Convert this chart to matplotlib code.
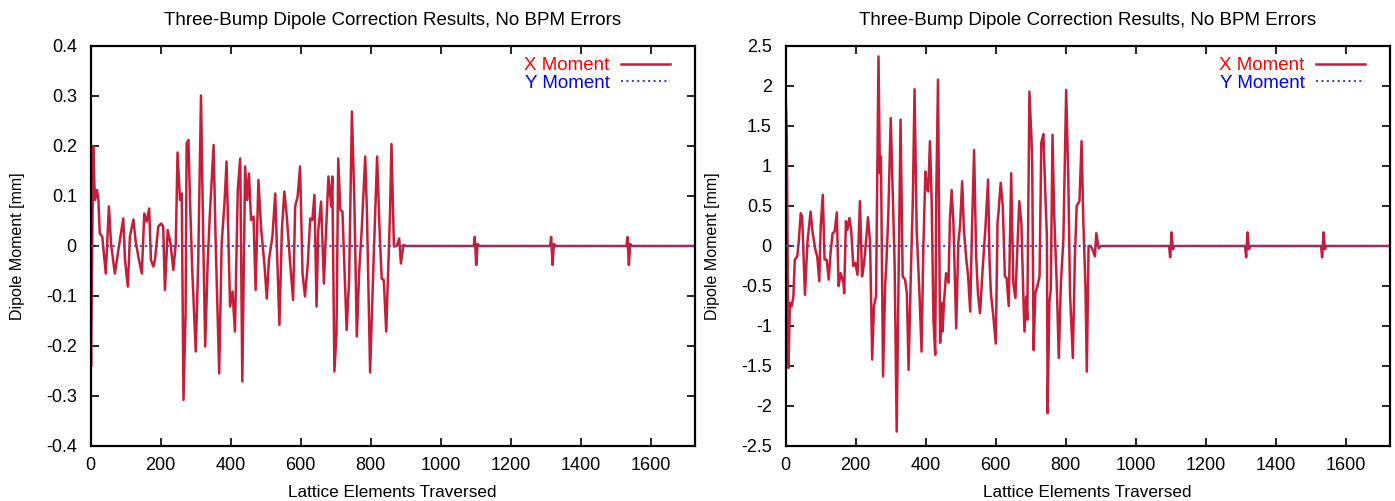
import matplotlib
matplotlib.use("Agg")
import matplotlib.pyplot as plt

plt.rcParams['font.family'] = ['Liberation Sans', 'DejaVu Sans']

title_text = "Three-Bump Dipole Correction Results, No BPM Errors"
xlabel_text = "Lattice Elements Traversed"
ylabel_text = "Dipole Moment [mm]"
legend_labels = ["X Moment", "Y Moment"]

# Left panel: X moment (mm)
left_x = [0, 1, 7, 12, 18, 22, 26, 33, 43, 52, 58, 69, 79, 93, 98, 106, 112, 122, 128, 136,
          146, 153, 160, 167, 172, 179, 184, 193, 201, 207, 212, 220, 228, 236, 243, 248, 255,
          260, 265, 271, 274, 279, 285, 290, 300, 307, 315, 321, 327, 334, 340, 351, 357, 367,
          374, 382, 388, 398, 405, 412, 420, 427, 433, 441, 447, 452, 458, 465, 471, 479, 487,
          496, 503, 509, 519, 527, 532, 539, 546, 553, 560, 569, 578, 584, 591, 598, 605, 612,
          620, 627, 633, 639, 645, 650, 658, 666, 671, 679, 687, 690, 696, 702, 707, 713, 719,
          731, 738, 746, 753, 760, 767, 774, 784, 789, 798, 807, 818, 825, 831, 837, 844, 850,
          855, 859, 866, 874, 881, 886, 893, 900,
          1094, 1097, 1101, 1105, 1110,
          1312, 1315, 1319, 1323, 1328,
          1530, 1533, 1537, 1541, 1546,
          1725]
left_y = [-0.19, -0.241, 0.200, 0.092, 0.112, 0.092, 0.025, 0.019, -0.055, 0.079, 0.005, -0.055,
          -0.008, 0.055, -0.028, -0.081, 0.019, 0.053, 0.012, -0.021, -0.055, 0.065, 0.049, 0.075,
          -0.028, -0.041, -0.025, 0.039, 0.045, 0.039, -0.088, 0.032, 0.005, -0.048, 0.005, 0.187,
          0.092, 0.105, -0.308, -0.135, 0.205, 0.212, 0.059, -0.048, -0.211, -0.035, 0.301, 0.032,
          -0.201, -0.035, 0.059, 0.202, 0.005, -0.255, 0.005, 0.085, 0.169, -0.121, -0.091, -0.171,
          0.112, 0.175, -0.271, 0.159, 0.092, 0.145, 0.052, 0.059, -0.088, 0.132, 0.032, -0.035,
          -0.105, -0.028, 0.019, 0.105, -0.008, -0.158, 0.032, 0.109, 0.059, -0.028, -0.108, 0.079,
          0.099, 0.159, -0.055, -0.101, -0.035, 0.055, 0.052, 0.102, -0.121, 0.032, 0.089, -0.075,
          0.012, 0.139, 0.079, 0.139, -0.251, -0.175, 0.175, 0.072, 0.069, -0.168, -0.068, 0.269,
          0.092, -0.181, -0.048, 0.032, 0.179, 0.065, -0.253, -0.048, 0.179, 0.032, -0.065, -0.068,
          -0.171, -0.041, 0.069, 0.204, -0.001, 0.0, 0.015, -0.035, 0.002, 0.0,
          0.0, 0.018, -0.038, 0.004, 0.0,
          0.0, 0.018, -0.038, 0.004, 0.0,
          0.0, 0.018, -0.038, 0.004, 0.0,
          0.0]

# Right panel: X moment (mm)
right_x = [0, 3, 8, 12, 17, 22, 26, 33, 37, 43, 47, 50, 55, 62, 71, 77, 85, 90, 96, 100, 106,
           111, 117, 123, 128, 134, 140, 146, 151, 157, 165, 167, 172, 176, 182, 187, 193, 199,
           205, 212, 218, 224, 229, 235, 241, 247, 252, 258, 265, 269, 272, 278, 284, 288, 293,
           300, 306, 311, 317, 323, 328, 334, 341, 346, 351, 357, 363, 368, 374, 382, 388, 393,
           399, 403, 407, 412, 417, 422, 427, 430, 435, 441, 445, 448, 452, 458, 465, 469, 474,
           479, 487, 493, 498, 504, 509, 515, 521, 527, 532, 538, 544, 549, 555, 563, 570, 578,
           582, 586, 593, 600, 605, 608, 614, 620, 626, 631, 637, 644, 650, 656, 662, 667, 673,
           679, 682, 687, 690, 696, 702, 704, 708, 713, 719, 725, 730, 736, 742, 746, 748, 753,
           757, 762, 767, 774, 780, 786, 793, 801, 807, 812, 820, 826, 831, 839, 845, 850, 856,
           860, 865, 871, 877, 883, 887, 894, 900,
           1095, 1098, 1102, 1106, 1110,
           1312, 1315, 1319, 1323, 1327,
           1529, 1532, 1536, 1540, 1544,
           1725]
right_y = [1.85, 1.41, -1.525, -0.71, -0.755, -0.63, -0.17, -0.13, 0.04, 0.41, 0.37, 0.0, -0.61,
           0.04, 0.43, 0.16, -0.05, -0.13, -0.44, 0.25, 0.64, -0.17, -0.17, -0.42, -0.09, 0.16,
           0.18, 0.42, -0.5, -0.34, -0.46, -0.59, 0.31, 0.2, 0.35, 0.2, -0.25, -0.21, -0.36, 0.56,
           -0.38, -0.21, 0.04, 0.36, 0.04, -1.42, -0.75, -0.63, 2.37, 0.91, 1.12, -1.63, -0.5,
           -0.17, 0.39, 1.6, 0.62, -0.21, -2.32, -0.23, 1.58, -0.38, -0.42, -0.59, -1.55, -0.42,
           0.56, 1.96, 0.2, -0.59, -1.32, -0.05, 0.93, 0.73, 0.68, 1.31, 0.54, -0.92, -1.36, 0.62,
           2.08, -1.21, -0.71, -1.07, -0.71, -0.34, -0.46, 0.33, 0.7, 0.29, -1.03, 0.04, 0.25, 0.81,
           0.2, -0.13, -0.38, -0.82, 0.2, 1.2, -0.13, -0.59, -0.84, -0.25, 0.2, 0.83, -0.17, -0.59,
           -0.88, -1.22, 0.29, 0.43, 0.79, 0.5, -0.38, -0.4, -0.75, 0.91, -0.46, -0.65, 0.0, 0.56,
           0.29, -0.67, -1.07, -0.63, -0.92, 1.93, 1.33, 1.04, -1.3, -0.59, -0.5, -0.38, 1.29, 1.4,
           0.58, 0.12, -2.09, -0.71, -0.55, 1.39, 0.37, -0.46, -1.4, -0.46, 0.08, 1.95, 0.87, -0.59,
           -1.4, -0.13, 0.5, 0.56, 1.31, 0.31, -0.5, -1.57, 0.0, 0.0, -0.05, -0.13, 0.16, -0.03, 0.0,
           0.0, -0.14, 0.17, -0.04, 0.0,
           0.0, -0.14, 0.17, -0.04, 0.0,
           0.0, -0.14, 0.17, -0.04, 0.0,
           0.0]

# Y moment: zero everywhere
ymom_x = [0, 1725]
ymom_y = [0.0, 0.0]

x_ticks = [0, 200, 400, 600, 800, 1000, 1200, 1400, 1600]
left_yticks = [-0.4, -0.3, -0.2, -0.1, 0, 0.1, 0.2, 0.3, 0.4]
left_yticklabels = ["-0.4", "-0.3", "-0.2", "-0.1", "0", "0.1", "0.2", "0.3", "0.4"]
right_yticks = [-2.5, -2, -1.5, -1, -0.5, 0, 0.5, 1, 1.5, 2, 2.5]
right_yticklabels = ["-2.5", "-2", "-1.5", "-1", "-0.5", "0", "0.5", "1", "1.5", "2", "2.5"]

W, H = 1395, 501
fig = plt.figure(figsize=(W / 100, H / 100), dpi=100)

xcol = '#c41e3a'
ycol = '#4a4aa8'

panels = [
    (90.7, left_x, left_y, left_yticks, left_yticklabels, (-0.4, 0.4)),
    (785.7, right_x, right_y, right_yticks, right_yticklabels, (-2.5, 2.5)),
]
for left_px, xs, ys, yt, ytl, ylim in panels:
    ax = fig.add_axes([left_px / W, 1 - 446 / H, 604 / W, 400 / H])
    lx, = ax.plot(xs, ys, color=xcol, lw=1.8, label=legend_labels[0], zorder=2)
    ly, = ax.plot(ymom_x, ymom_y, color=ycol, lw=1.5, linestyle=(0, (1, 1.6)),
                  label=legend_labels[1], zorder=3)
    ax.set_xlim(0, 1725)
    ax.set_ylim(*ylim)
    ax.set_xticks(x_ticks)
    ax.set_xticklabels([str(t) for t in x_ticks])
    ax.set_yticks(yt)
    ax.set_yticklabels(ytl)
    ax.tick_params(direction='in', length=6, width=1.2, top=True, right=True,
                   labelsize=13, colors='black')
    ax.tick_params(axis='x', pad=8)
    ax.tick_params(axis='y', pad=10)
    for s in ax.spines.values():
        s.set_linewidth(1.6)
    ax.set_title(title_text, fontsize=13.5, pad=15)
    ax.set_xlabel(xlabel_text, fontsize=12.3, labelpad=8)
    ax.set_ylabel(ylabel_text, fontsize=11.5)
    ax.yaxis.set_label_coords(-0.108, 0.5)
    leg = ax.legend(loc='upper right', frameon=False, markerfirst=False, fontsize=13.5,
                    handlelength=2.6, handletextpad=0.6, labelspacing=0.0,
                    borderaxespad=0.2, bbox_to_anchor=(0.977, 1.0))
    leg.get_texts()[0].set_color('#ff0000')
    leg.get_texts()[1].set_color('#0000ff')

fig.savefig("out.png", dpi=100)
